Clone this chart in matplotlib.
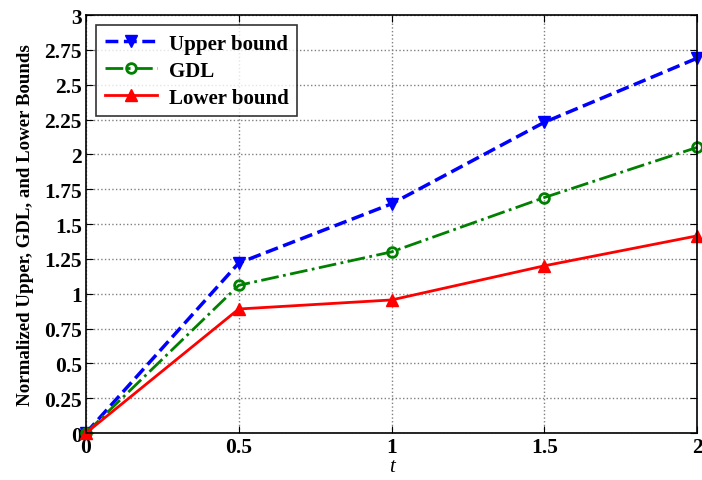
import matplotlib
matplotlib.use("Agg")
import matplotlib.pyplot as plt
import numpy as np

t = [0, 0.5, 1, 1.5, 2]
upper = [0, 1.22, 1.645, 2.23, 2.69]
gdl = [0, 1.06, 1.30, 1.69, 2.05]
lower = [0, 0.89, 0.955, 1.20, 1.415]

plt.rcParams['font.family'] = ['Liberation Serif', 'DejaVu Serif']
plt.rcParams['font.weight'] = 'bold'

fig = plt.figure(figsize=(7.02, 4.81), dpi=100)
ax = fig.add_axes([0.1225, 0.0977, 0.8705, 0.869])

ax.plot(t, upper, '--', color='blue', lw=2.5, marker='v', ms=8, label='Upper bound', clip_on=False)
ax.plot(t, gdl, '-.', color='green', lw=2, marker='o', ms=7, mfc='none', mew=2, label='GDL', clip_on=False)
ax.plot(t, lower, '-', color='red', lw=2, marker='^', ms=8, label='Lower bound', clip_on=False)

ax.set_xlim(0, 2)
ax.set_ylim(0, 3)
ax.set_xticks([0, 0.5, 1, 1.5, 2])
ax.set_xticklabels(['0', '0.5', '1', '1.5', '2'])
yt = np.arange(0, 3.01, 0.25)
ax.set_yticks(yt)
ax.set_yticklabels(['0', '0.25', '0.5', '0.75', '1', '1.25', '1.5', '1.75', '2', '2.25', '2.5', '2.75', '3'])
ax.tick_params(direction='in', top=True, right=True, labelsize=15.5, length=5, pad=3)
for lab in ax.get_xticklabels() + ax.get_yticklabels():
    lab.set_fontweight('bold')
ax.grid(True, linestyle=':', color='gray', lw=1)
for s in ax.spines.values():
    s.set_linewidth(1.2)

ax.set_xlabel('t', fontsize=15, fontstyle='italic', fontweight='normal', labelpad=0)
ax.set_ylabel('Normalized Upper, GDL, and Lower Bounds', fontsize=13.6, fontweight='bold', labelpad=7)

leg = ax.legend(loc='upper left', frameon=True, fancybox=False, edgecolor='black',
                borderaxespad=0.5, handlelength=2.5, handletextpad=0.6, labelspacing=0.33,
                prop={'weight': 'bold', 'size': 15})
leg.get_frame().set_linewidth(1.2)

fig.savefig('out.png', dpi=100)
